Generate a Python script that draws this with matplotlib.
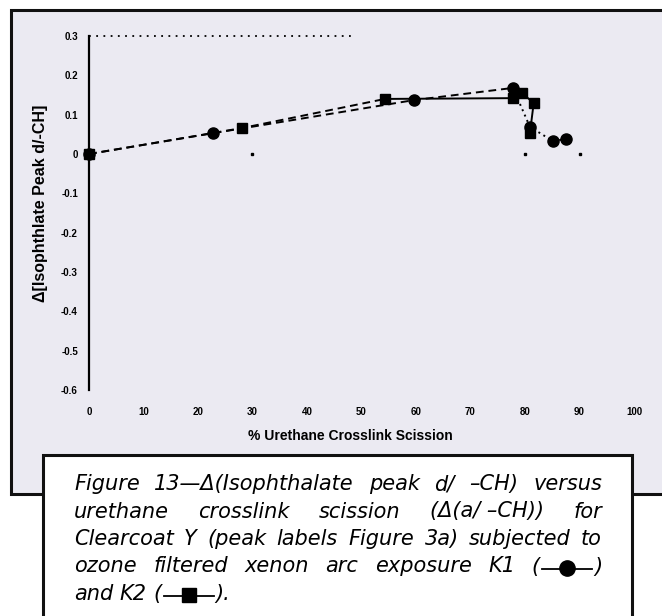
import matplotlib
matplotlib.use('Agg')
import matplotlib.pyplot as plt
from matplotlib.patches import Rectangle
from matplotlib.lines import Line2D

# K1 exposure (circles) and K2 exposure (squares)
k1_x = [0, 22.8, 59.6, 77.8, 80.9, 85.1, 87.5]
k1_y = [0, 0.053, 0.137, 0.168, 0.069, 0.033, 0.038]
k2_x = [0, 28.1, 54.3, 77.8, 79.4, 81.6, 80.9]
k2_y = [0, 0.066, 0.140, 0.142, 0.155, 0.130, 0.053]

# index where each series switches line style
k1_split = 3
k2_split = 2

# reference line along the top of the plot and stray marks on the zero line
top_line_x = [0, 49]
top_line_y = [0.3, 0.3]
zero_marks_x = [30, 80, 90]

x_ticks = [0, 10, 20, 30, 40, 50, 60, 70, 80, 90, 100]
x_tick_labels = [str(v) for v in x_ticks]
y_ticks = [0.3, 0.2, 0.1, 0, -0.1, -0.2, -0.3, -0.4, -0.5, -0.6]
y_tick_labels = ['0.3', '0.2', '0.1', '0', '-0.1', '-0.2', '-0.3', '-0.4', '-0.5', '-0.6']

x_label = '% Urethane Crosslink Scission'
y_label = 'Δ[Isophthlate Peak d/-CH]'

# ('sym', name) stands for the little line+marker key of a series
caption_lines = [
    ['Figure', '13—Δ(Isophthalate', 'peak', 'd/', '–CH)', 'versus'],
    ['urethane', 'crosslink', 'scission', '(Δ(a/ –CH))', 'for'],
    ['Clearcoat', 'Y', '(peak', 'labels', 'Figure', '3a)', 'subjected', 'to'],
    ['ozone', 'filtered', 'xenon', 'arc', 'exposure', 'K1', ['(', ('sym', 'K1'), ')']],
    ['and', 'K2', ['(', ('sym', 'K2'), ').']],
]

W, H = 662, 616
PANEL_COLOR = '#ebeaf2'


def fx(px):
    return px / W


def fy(py):
    return 1 - py / H


fig = plt.figure(figsize=(W / 100, H / 100), dpi=100)
fig.patch.set_facecolor('white')

# grey chart panel and white caption box
panel = Rectangle((fx(11), fy(494)), fx(720), 484 / H, transform=fig.transFigure,
                  facecolor=PANEL_COLOR, edgecolor='#111111', lw=2.2, zorder=-2)
fig.add_artist(panel)
cap_box = Rectangle((fx(43), fy(680)), (632 - 43) / W, (680 - 455) / H,
                    transform=fig.transFigure, facecolor='white',
                    edgecolor='#111111', lw=2.2, zorder=1)
fig.add_artist(cap_box)

ax = fig.add_axes([fx(89), fy(390), (634 - 89) / W, (390 - 36) / H])
ax.set_facecolor('none')
ax.set_xlim(0, 100)
ax.set_ylim(-0.6, 0.3)

for side in ['top', 'right', 'bottom']:
    ax.spines[side].set_visible(False)
ax.spines['left'].set_linewidth(1.6)

tick_font = dict(family='Liberation Sans', weight='bold', size=7)
ax.set_xticks(x_ticks)
ax.set_xticklabels(x_tick_labels, **tick_font)
ax.set_yticks(y_ticks)
ax.set_yticklabels(y_tick_labels, **tick_font)
ax.tick_params(axis='x', length=0, pad=12)
ax.tick_params(axis='y', length=0, pad=8)

ax.plot(top_line_x, top_line_y, color='black', lw=1.3, linestyle=(0, (1, 3)),
        clip_on=False)
ax.plot(zero_marks_x, [0] * len(zero_marks_x), linestyle='none', marker='s',
        ms=1.6, color='black')

dash = (0, (4, 2.5))
ax.plot(k1_x[:k1_split + 1], k1_y[:k1_split + 1], color='black', lw=1.4,
        linestyle=dash, clip_on=False)
ax.plot(k1_x[k1_split:], k1_y[k1_split:], color='black', lw=1.4,
        linestyle=(0, (1, 2)), clip_on=False)
ax.plot(k1_x, k1_y, linestyle='none', marker='o', ms=8, color='black',
        clip_on=False)

ax.plot(k2_x[:k2_split + 1], k2_y[:k2_split + 1], color='black', lw=1.4,
        linestyle=dash, clip_on=False)
ax.plot(k2_x[k2_split:], k2_y[k2_split:], color='black', lw=1.4,
        linestyle='-', clip_on=False)
ax.plot(k2_x, k2_y, linestyle='none', marker='s', ms=7.5, color='black',
        clip_on=False)

fig.text(fx(350), fy(436), x_label, ha='center', va='center',
         family='Liberation Sans', weight='bold', size=10)
fig.text(fx(41), fy(203), y_label, ha='center', va='center', rotation=90,
         family='Liberation Sans', weight='bold', size=11.5)

# caption, justified between the box margins
CAP_SIZE = 15
series_marker = {'K1': 'o', 'K2': 's'}
SYM_W = 54
TEXT_L, TEXT_R = 74, 602
BASE0, LEADING = 490, 27.5
MIN_GAP = 4

fig.canvas.draw()
renderer = fig.canvas.get_renderer()


def cap_font(size):
    return dict(family='DejaVu Sans', style='oblique', size=size)


def text_width(s, size):
    t = fig.text(0, 0, s, **cap_font(size))
    w = t.get_window_extent(renderer).width
    t.remove()
    return w


def piece_width(p, size):
    return SYM_W if isinstance(p, tuple) else text_width(p, size)


def draw_piece(p, x, base, size):
    if isinstance(p, tuple):
        name = p[1]
        ly = fy(base - 4)
        fig.add_artist(Line2D([fx(x + 2), fx(x + SYM_W - 2)], [ly, ly],
                              transform=fig.transFigure, color='black',
                              lw=1.3, zorder=3))
        fig.add_artist(Line2D([fx(x + SYM_W / 2)], [fy(base - 5)],
                              transform=fig.transFigure, marker=series_marker[name],
                              ms=11 if name == 'K1' else 10, color='black',
                              linestyle='none', zorder=3))
    else:
        fig.text(fx(x), fy(base), p, ha='left', va='baseline', zorder=3,
                 **cap_font(size))
    return x + piece_width(p, size)


for i, words in enumerate(caption_lines):
    base = BASE0 + i * LEADING
    tokens = [w if isinstance(w, list) else [w] for w in words]
    size = CAP_SIZE
    last = i == len(caption_lines) - 1
    widths = [sum(piece_width(p, size) for p in tok) for tok in tokens]
    avail = TEXT_R - TEXT_L
    if not last and sum(widths) + MIN_GAP * (len(tokens) - 1) > avail:
        # squeeze an over-long line down to fit the box
        size *= (avail - MIN_GAP * (len(tokens) - 1)) / sum(widths)
        widths = [sum(piece_width(p, size) for p in tok) for tok in tokens]
    if last:
        gap = text_width('a b', size) - text_width('ab', size)
    else:
        gap = (avail - sum(widths)) / (len(tokens) - 1)
    x = TEXT_L
    for tok, w in zip(tokens, widths):
        cx = x
        for p in tok:
            cx = draw_piece(p, cx, base, size)
        x += w + gap

fig.savefig('out.png', dpi=100, facecolor='white')
